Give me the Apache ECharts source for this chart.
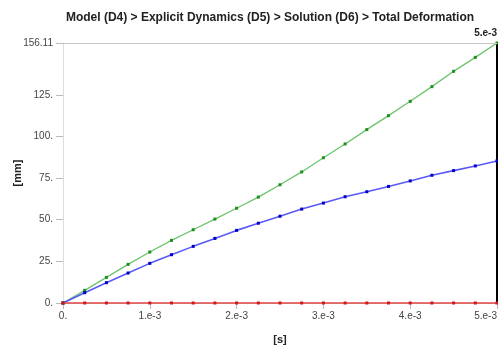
<!DOCTYPE html>
<html>
<head>
<meta charset="utf-8">
<script src="https://cdn.jsdelivr.net/npm/echarts@6/dist/echarts.min.js"></script>
<style>html,body{margin:0;padding:0;background:#fff}#c{width:498px;height:347px}</style>
</head>
<body>
<div id="c"></div>
<script>
var titleText = 'Model (D4) > Explicit Dynamics (D5) > Solution (D6) > Total Deformation';
var timeSteps = [0, 0.00025, 0.0005, 0.00075, 0.001, 0.00125, 0.0015, 0.00175, 0.002, 0.00225, 0.0025,
  0.00275, 0.003, 0.00325, 0.0035, 0.00375, 0.004, 0.00425, 0.0045, 0.00475, 0.005];
var greenValues = [0, 7.6, 15.4, 23.2, 30.6, 37.6, 44.0, 50.4, 56.9, 63.6, 71.0,
  78.7, 87.2, 95.5, 104.1, 112.5, 121.1, 129.9, 139.1, 147.5, 156.11];
var blueValues = [0, 6.2, 12.2, 18.0, 23.8, 29.0, 34.0, 38.8, 43.6, 47.9, 52.1,
  56.4, 60.0, 63.8, 66.8, 70.0, 73.3, 76.7, 79.5, 82.3, 85.3];
var redValues = [0, 0, 0, 0, 0, 0, 0, 0, 0, 0, 0, 0, 0, 0, 0, 0, 0, 0, 0, 0, 0];
var yTickValues = [0, 25, 50, 75, 100, 125, 156.11];
var yTickLabels = ['0.', '25.', '50.', '75.', '100.', '125.', '156.11'];
var xTickLabels = ['0.', '1.e-3', '2.e-3', '3.e-3', '4.e-3', '5.e-3'];
var yMax = 156.11;
var cursorLabel = '5.e-3';

function pairs(vals) { return timeSteps.map(function (t, i) { return [t, vals[i]]; }); }

var font = 'Liberation Sans, Arial, sans-serif';
var chart = echarts.init(document.getElementById('c'));
chart.setOption({
  animation: false,
  title: {
    text: titleText, left: 265, top: 7, textAlign: 'center',
    textStyle: { fontFamily: font, fontSize: 12, fontWeight: 'bold', color: '#222' }
  },
  grid: { left: 63, right: 1, top: 43, bottom: 44, containLabel: false, outerBoundsMode: 'none' },
  xAxis: {
    type: 'value', min: 0, max: 0.005, interval: 0.001,
    name: '[s]', nameLocation: 'middle', nameGap: 31,
    nameTextStyle: { fontFamily: font, fontSize: 11, fontWeight: 'bold', color: '#222' },
    axisLine: { show: true, lineStyle: { color: '#cccccc' } },
    axisTick: { show: true, length: 6, lineStyle: { color: '#bbbbbb' } },
    splitLine: { show: false },
    axisLabel: {
      fontFamily: font, fontSize: 10, color: '#444', margin: 8, alignMaxLabel: 'right',
      formatter: function (v) { return xTickLabels[Math.round(v * 1000)]; }
    }
  },
  yAxis: [{
    type: 'value', min: 0, max: yMax,
    name: '[mm]', nameLocation: 'middle', nameGap: 40, nameRotate: 90, nameMoveOverlap: false,
    nameTextStyle: { fontFamily: font, fontSize: 11, fontWeight: 'bold', color: '#222' },
    axisLine: { show: true, lineStyle: { color: '#dddddd' } },
    axisTick: { show: true, length: 7, customValues: yTickValues, lineStyle: { color: '#bbbbbb' } },
    splitLine: { show: false },
    axisLabel: {
      fontFamily: font, fontSize: 10, color: '#444', margin: 10,
      customValues: yTickValues,
      formatter: function (v) {
        var i = -1;
        for (var k = 0; k < yTickValues.length; k++) if (Math.abs(yTickValues[k] - v) < 1e-6) i = k;
        return i >= 0 ? yTickLabels[i] : '';
      }
    }
  }, {
    type: 'value', min: 0, max: yMax, position: 'right',
    name: cursorLabel, nameLocation: 'end', nameGap: 5,
    nameTextStyle: { fontFamily: font, fontSize: 10, fontWeight: 'bold', color: '#222', align: 'right' },
    axisLine: { show: true, lineStyle: { color: '#000', width: 2 } },
    axisTick: { show: false }, axisLabel: { show: false }, splitLine: { show: false }
  }],
  series: [
    {
      type: 'line', data: pairs(greenValues), symbol: 'rect', symbolSize: 3, showAllSymbol: true, clip: false,
      lineStyle: { color: '#6cc46c', width: 1.3 }, itemStyle: { color: '#1f8f1f' }, z: 3,
      markLine: {
        silent: true, symbol: ['none', 'none'], animation: false,
        lineStyle: { color: '#c8c8c8', width: 1, type: 'solid' },
        label: { show: false },
        data: [{ yAxis: yMax }]
      }
    },
    {
      type: 'line', data: pairs(blueValues), symbol: 'rect', symbolSize: 3, showAllSymbol: true, clip: false,
      lineStyle: { color: '#5a5af5', width: 1.6 }, itemStyle: { color: '#0000c8' }, z: 3
    },
    {
      type: 'line', data: pairs(redValues), symbol: 'rect', symbolSize: 3, showAllSymbol: true, clip: false,
      lineStyle: { color: '#e04848', width: 1.6 }, itemStyle: { color: '#d01818' }, z: 4
    }
  ]
});
</script>
</body>
</html>
